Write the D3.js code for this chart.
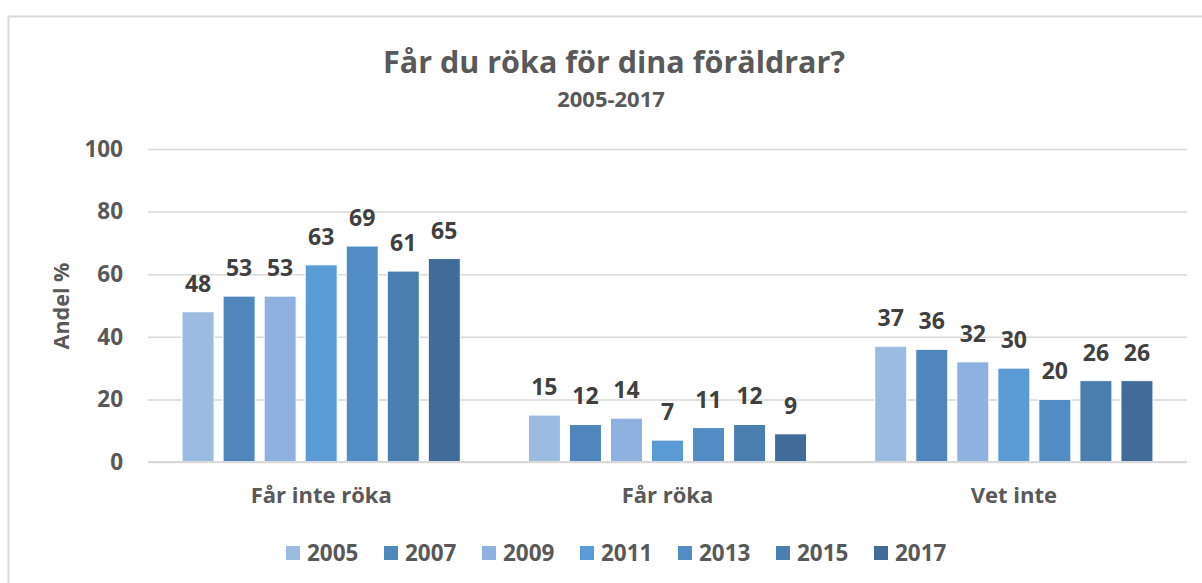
<!DOCTYPE html>
<html>
<head>
<meta charset="utf-8">
<script src="https://cdn.jsdelivr.net/npm/d3@7"></script>
<style>
  html, body { margin: 0; padding: 0; background: #fff; }
  svg { display: block; font-family: "Open Sans", sans-serif; font-weight: 700; }
</style>
</head>
<body>
<div id="chart"></div>
<script>
const categories = ["Får inte röka", "Får röka", "Vet inte"];
const years = ["2005", "2007", "2009", "2011", "2013", "2015", "2017"];
const values2005 = [48, 15, 37];
const values2007 = [53, 12, 36];
const values2009 = [53, 14, 32];
const values2011 = [63, 7, 30];
const values2013 = [69, 11, 20];
const values2015 = [61, 12, 26];
const values2017 = [65, 9, 26];
const yTicks = [0, 20, 40, 60, 80, 100];

const seriesValues = [values2005, values2007, values2009, values2011, values2013, values2015, values2017];
const colors = ["#9bbbe1", "#4f87bc", "#8fb1df", "#5b9bd5", "#518dc4", "#4a7eb0", "#416b99"];

const width = 1202, height = 583;
const margin = { top: 149, right: 15, bottom: 121, left: 148 };

const svg = d3.select("#chart").append("svg")
  .attr("width", width)
  .attr("height", height);

// chart frame
svg.append("rect")
  .attr("x", 8.5).attr("y", 16.5)
  .attr("width", 1210).attr("height", 600)
  .attr("fill", "#fff")
  .attr("stroke", "#d9d9d9")
  .attr("stroke-width", 2);

svg.append("text")
  .attr("x", 614).attr("y", 73)
  .attr("text-anchor", "middle")
  .attr("font-size", 30.5)
  .attr("fill", "#595959")
  .text("Får du röka för dina föräldrar?");

svg.append("text")
  .attr("x", 611).attr("y", 107)
  .attr("text-anchor", "middle")
  .attr("font-size", 22)
  .attr("fill", "#595959")
  .text("2005-2017");

const x0 = d3.scaleBand()
  .domain(categories)
  .range([margin.left, width - margin.right]);

const x1 = d3.scaleBand()
  .domain(years)
  .range([0, x0.bandwidth()])
  .paddingInner(0.22)
  .paddingOuter(0.83);

const y = d3.scaleLinear()
  .domain([0, 100])
  .range([height - margin.bottom, margin.top]);

// gridlines + tick labels
const yAxis = svg.append("g")
  .attr("transform", `translate(${margin.left},0)`)
  .call(d3.axisLeft(y).tickValues(yTicks).tickSize(-(width - margin.left - margin.right)).tickPadding(25));
yAxis.select(".domain").remove();
yAxis.selectAll(".tick line").attr("stroke", "#d9d9d9").attr("stroke-width", 1.5);
yAxis.selectAll(".tick text")
  .attr("font-family", "Open Sans, sans-serif")
  .attr("font-weight", 700)
  .attr("font-size", 22.5)
  .attr("fill", "#595959");

svg.append("text")
  .attr("transform", "rotate(-90)")
  .attr("x", -306).attr("y", 69)
  .attr("text-anchor", "middle")
  .attr("font-size", 21.5)
  .attr("fill", "#595959")
  .text("Andel %");

const rows = categories.map((c, i) => ({ cat: c, vals: years.map((yr, j) => ({ year: yr, v: seriesValues[j][i], color: colors[j] })) }));

const groups = svg.selectAll(".grp")
  .data(rows)
  .enter().append("g")
  .attr("class", "grp")
  .attr("transform", d => `translate(${x0(d.cat)},0)`);

groups.selectAll("rect")
  .data(d => d.vals)
  .enter().append("rect")
  .attr("x", d => x1(d.year))
  .attr("y", d => y(d.v))
  .attr("width", x1.bandwidth())
  .attr("height", d => y(0) - y(d.v))
  .attr("fill", d => d.color)
  .attr("stroke", "#fff")
  .attr("stroke-width", 1);

groups.selectAll(".lbl")
  .data(d => d.vals)
  .enter().append("text")
  .attr("class", "lbl")
  .attr("x", d => x1(d.year) + x1.bandwidth() / 2)
  .attr("y", d => y(d.v) - 20)
  .attr("text-anchor", "middle")
  .attr("font-size", 23)
  .attr("fill", "#404040")
  .text(d => d.v);

// baseline
svg.append("line")
  .attr("x1", margin.left).attr("x2", width - margin.right)
  .attr("y1", y(0)).attr("y2", y(0))
  .attr("stroke", "#d9d9d9").attr("stroke-width", 2);

// category labels
svg.selectAll(".cat")
  .data(categories)
  .enter().append("text")
  .attr("class", "cat")
  .attr("x", d => x0(d) + x0.bandwidth() / 2)
  .attr("y", 503)
  .attr("text-anchor", "middle")
  .attr("font-size", 22)
  .attr("fill", "#595959")
  .text(d => d);

// legend
const legend = svg.append("g").attr("transform", "translate(286,546)");
const item = legend.selectAll(".leg")
  .data(years)
  .enter().append("g")
  .attr("class", "leg")
  .attr("transform", (d, i) => `translate(${i * 98},0)`);
item.append("rect")
  .attr("width", 14).attr("height", 14)
  .attr("fill", (d, i) => colors[i]);
item.append("text")
  .attr("x", 21).attr("y", 15)
  .attr("font-size", 22.5)
  .attr("fill", "#595959")
  .text(d => d);
</script>
</body>
</html>
